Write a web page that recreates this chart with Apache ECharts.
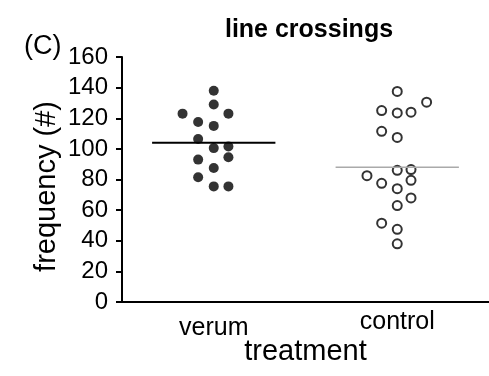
<!DOCTYPE html>
<html>
<head>
<meta charset="utf-8">
<script src="https://cdn.jsdelivr.net/npm/echarts@6/dist/echarts.min.js"></script>
<style>
  body{margin:0;background:#fff}
  #main{width:489px;height:376px}
</style>
</head>
<body>
<div id="main"></div>
<script>
// groups on the x axis
let categories = ['verum', 'control']
let yTicks = [0, 20, 40, 60, 80, 100, 120, 140, 160]

// line crossings per animal
let verumValues = [138, 129, 123, 123, 117.5, 115, 106.5, 100.5, 101.5, 94.5, 93, 87.5, 81.5, 75.5, 75.5]
// sideways spread of the dots inside the column (category units)
let verumSpread = [0, 0, -0.17, 0.08, -0.085, 0, -0.085, 0, 0.08, 0.08, -0.085, 0, -0.085, 0, 0.08]

let controlValues = [137.5, 130.5, 125, 123.5, 124, 111.5, 107.5, 86, 86.5, 82.5, 79.5, 77.5, 74, 68, 63, 51.5, 47.5, 38]
let controlSpread = [0, 0.16, -0.085, 0, 0.075, -0.085, 0, 0, 0.075, -0.165, 0.075, -0.085, 0, 0.075, 0, -0.085, 0, 0]

// group means (horizontal bars)
let verumMean = 104
let controlMean = 88

let font = 'Liberation Sans, Arial, sans-serif'
let halfBar = 0.336

function points(values, spread, center){
    return values.map((v, i) => [center + spread[i], v])
}

let instance = echarts.init(document.getElementById('main'))
let option = {
    backgroundColor: '#fff',
    animation: false,
    title: {
        text: 'line crossings',
        left: 304,
        top: 13,
        textAlign: 'center',
        textStyle: {fontFamily: font, fontSize: 25, fontWeight: 'bold', color: '#000'}
    },
    graphic: [{
        type: 'text',
        left: 24,
        top: 33,
        style: {text: '(C)', font: '27px ' + font, fill: '#000'}
    }],
    grid: {left: 122, right: 0, top: 57, bottom: 74, outerBoundsMode: 'none'},
    xAxis: [{
        type: 'category',
        data: categories,
        boundaryGap: true,
        name: 'treatment',
        nameLocation: 'middle',
        nameGap: 35,
        nameMoveOverlap: false,
        nameTextStyle: {fontFamily: font, fontSize: 29, color: '#000'},
        axisLine: {lineStyle: {color: '#000', width: 2}},
        axisTick: {alignWithLabel: true, length: 5, lineStyle: {color: '#000', width: 2}},
        axisLabel: {
            fontFamily: font, fontSize: 25, color: '#000', margin: 8,
            // the verum label sits a little lower than control in the original
            formatter: function(v){ return v === 'verum' ? '{v|' + v + '}' : '{c|' + v + '}' },
            rich: {
                v: {fontFamily: font, fontSize: 25, color: '#000', padding: [6, 0, 0, 0]},
                c: {fontFamily: font, fontSize: 25, color: '#000'}
            }
        }
    }, {
        type: 'value',
        min: 0,
        max: 2,
        show: false
    }],
    yAxis: {
        type: 'value',
        min: yTicks[0],
        max: yTicks[yTicks.length - 1],
        interval: 20,
        name: 'frequency (#)',
        nameLocation: 'middle',
        nameGap: 61,
        nameMoveOverlap: false,
        nameTextStyle: {fontFamily: font, fontSize: 29, color: '#000', padding: [0, 14, 0, 0]},
        splitLine: {show: false},
        axisLine: {show: true, lineStyle: {color: '#000', width: 2}},
        axisTick: {show: true, length: 6, lineStyle: {color: '#000', width: 2}},
        axisLabel: {fontFamily: font, fontSize: 24, color: '#000', margin: 14}
    },
    series: [
        {
            name: 'verum',
            type: 'scatter',
            xAxisIndex: 1,
            symbolSize: 10,
            itemStyle: {color: '#000'},
            data: points(verumValues, verumSpread, 0.5)
        },
        {
            name: 'control',
            type: 'scatter',
            xAxisIndex: 1,
            symbolSize: 9,
            itemStyle: {color: '#fff', borderColor: '#000', borderWidth: 2},
            data: points(controlValues, controlSpread, 1.5)
        },
        {
            type: 'line',
            xAxisIndex: 1,
            symbol: 'none',
            lineStyle: {color: '#000', width: 2},
            data: [[0.5 - halfBar, verumMean], [0.5 + halfBar, verumMean]]
        },
        {
            type: 'line',
            xAxisIndex: 1,
            symbol: 'none',
            lineStyle: {color: '#aaa', width: 1.5},
            data: [[1.5 - halfBar, controlMean], [1.5 + halfBar, controlMean]]
        }
    ]
}
instance.setOption(option)
</script>
</body>
</html>
